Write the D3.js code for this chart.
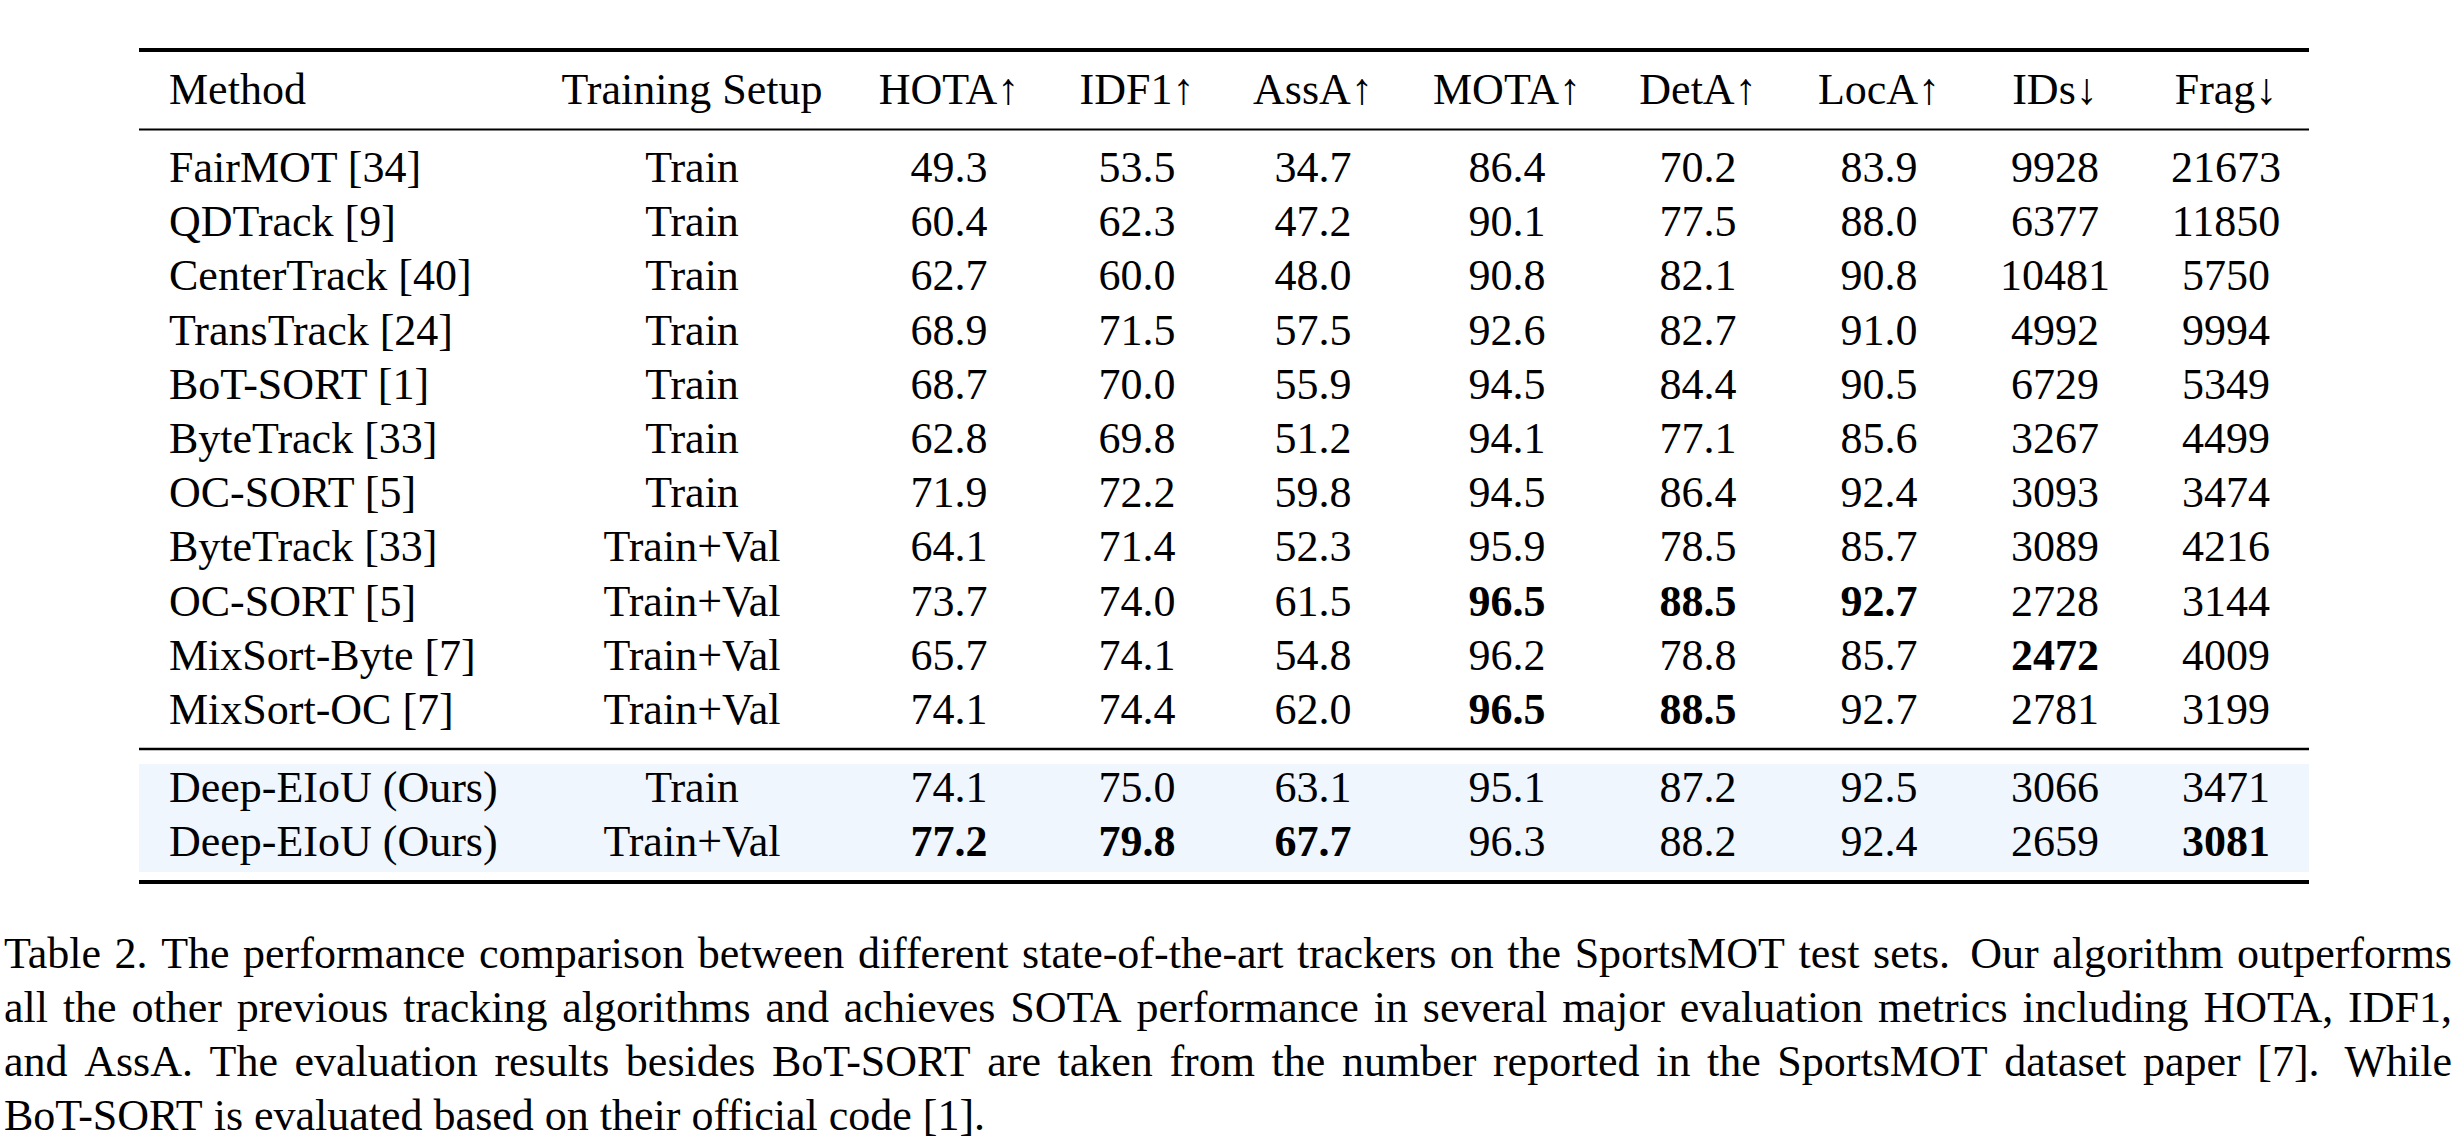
<!DOCTYPE html>
<html>
<head>
<meta charset="utf-8">
<script src="https://cdn.jsdelivr.net/npm/d3@7/dist/d3.min.js"></script>
<style>
  html, body { margin: 0; padding: 0; background: #ffffff; }
  svg { display: block; }
  text { font-family: "Liberation Serif", "Times New Roman", serif; fill: #000; }
</style>
</head>
<body>
<svg id="chart" width="2456" height="1139"></svg>
<script>
// ---------------- data ----------------
const headers = ["Method", "Training Setup", "HOTA\u2191", "IDF1\u2191", "AssA\u2191", "MOTA\u2191", "DetA\u2191", "LocA\u2191", "IDs\u2193", "Frag\u2193"];
const methods = ["FairMOT [34]", "QDTrack [9]", "CenterTrack [40]", "TransTrack [24]", "BoT-SORT [1]", "ByteTrack [33]", "OC-SORT [5]", "ByteTrack [33]", "OC-SORT [5]", "MixSort-Byte [7]", "MixSort-OC [7]"];
const setups = ["Train", "Train", "Train", "Train", "Train", "Train", "Train", "Train+Val", "Train+Val", "Train+Val", "Train+Val"];
const hota = ["49.3", "60.4", "62.7", "68.9", "68.7", "62.8", "71.9", "64.1", "73.7", "65.7", "74.1"];
const idf1 = ["53.5", "62.3", "60.0", "71.5", "70.0", "69.8", "72.2", "71.4", "74.0", "74.1", "74.4"];
const assa = ["34.7", "47.2", "48.0", "57.5", "55.9", "51.2", "59.8", "52.3", "61.5", "54.8", "62.0"];
const mota = ["86.4", "90.1", "90.8", "92.6", "94.5", "94.1", "94.5", "95.9", "96.5", "96.2", "96.5"];
const deta = ["70.2", "77.5", "82.1", "82.7", "84.4", "77.1", "86.4", "78.5", "88.5", "78.8", "88.5"];
const loca = ["83.9", "88.0", "90.8", "91.0", "90.5", "85.6", "92.4", "85.7", "92.7", "85.7", "92.7"];
const ids  = ["9928", "6377", "10481", "4992", "6729", "3267", "3093", "3089", "2728", "2472", "2781"];
const frag = ["21673", "11850", "5750", "9994", "5349", "4499", "3474", "4216", "3144", "4009", "3199"];

const oursMethods = ["Deep-EIoU (Ours)", "Deep-EIoU (Ours)"];
const oursSetups = ["Train", "Train+Val"];
const oursHota = ["74.1", "77.2"];
const oursIdf1 = ["75.0", "79.8"];
const oursAssa = ["63.1", "67.7"];
const oursMota = ["95.1", "96.3"];
const oursDeta = ["87.2", "88.2"];
const oursLoca = ["92.5", "92.4"];
const oursIds  = ["3066", "2659"];
const oursFrag = ["3471", "3081"];

// bold cells: [rowIndex, columnIndex]
const boldCells = [[8, 5], [8, 6], [8, 7], [9, 8], [10, 5], [10, 6]];
const oursBoldCells = [[1, 2], [1, 3], [1, 4], [1, 9]];

const captionLines = [
  "Table 2. The performance comparison between different state-of-the-art trackers on the SportsMOT test sets.  Our algorithm outperforms",
  "all the other previous tracking algorithms and achieves SOTA performance in several major evaluation metrics including HOTA, IDF1,",
  "and AssA. The evaluation results besides BoT-SORT are taken from the number reported in the SportsMOT dataset paper [7].  While",
  "BoT-SORT is evaluated based on their official code [1]."
];

// ---------------- layout ----------------
const svg = d3.select("#chart");
const FS = 44;
const tableLeft = 139, tableRight = 2309;

const colX = d3.scaleOrdinal()
  .domain(d3.range(headers.length))
  .range([169, 692, 949, 1137, 1313, 1507, 1698, 1879, 2055, 2226]);
const colAnchor = i => i === 0 ? "start" : "middle";

const rowY = d3.scaleLinear().domain([0, methods.length - 1]).range([182, 724]);
const oursY = d3.scaleLinear().domain([0, 1]).range([802, 856]);

const buildRows = (m, s, cols) => m.map((name, i) => [name, s[i], ...cols.map(c => c[i])]);
const rows = buildRows(methods, setups, [hota, idf1, assa, mota, deta, loca, ids, frag]);
const oursRows = buildRows(oursMethods, oursSetups, [oursHota, oursIdf1, oursAssa, oursMota, oursDeta, oursLoca, oursIds, oursFrag]);

const isBold = (list, r, c) => list.some(([rr, cc]) => rr === r && cc === c);

// highlight background for our rows
svg.append("rect")
  .attr("x", tableLeft).attr("y", 764)
  .attr("width", tableRight - tableLeft).attr("height", 108)
  .attr("fill", "#eff6fe");

// rules
const rules = [
  { y: 50, w: 4 },
  { y: 129.5, w: 2 },
  { y: 749, w: 2.7 },
  { y: 882, w: 4 }
];
svg.selectAll("line.rule").data(rules).join("line")
  .attr("class", "rule")
  .attr("x1", tableLeft).attr("x2", tableRight)
  .attr("y1", d => d.y).attr("y2", d => d.y)
  .attr("stroke", "#000").attr("stroke-width", d => d.w);

// header
svg.append("g").selectAll("text").data(headers).join("text")
  .attr("x", (d, i) => colX(i))
  .attr("y", 104)
  .attr("text-anchor", (d, i) => colAnchor(i))
  .attr("font-size", FS)
  .text(d => d);

// body rows
function drawRows(data, yScale, boldList) {
  const g = svg.append("g");
  data.forEach((row, r) => {
    g.selectAll(null).data(row).join("text")
      .attr("x", (d, c) => colX(c))
      .attr("y", yScale(r))
      .attr("text-anchor", (d, c) => colAnchor(c))
      .attr("font-size", FS)
      .attr("font-weight", (d, c) => isBold(boldList, r, c) ? "bold" : "normal")
      .text(d => d);
  });
}
drawRows(rows, rowY, boldCells);
drawRows(oursRows, oursY, oursBoldCells);

// caption (justified, with slightly wider inter-sentence space)
const capY = d3.scaleLinear().domain([0, captionLines.length - 1]).range([968, 1130]);
const capLeft = 4, capRight = 2452;
const capG = svg.append("g");
const measure = s => {
  const t = capG.append("text").attr("font-size", FS).text(s);
  const w = t.node().getComputedTextLength();
  t.remove();
  return w;
};
const spaceW = measure("a a") - measure("aa");
captionLines.forEach((line, li) => {
  const tokens = line.split(" ");
  const words = [], weights = [];
  let wide = false;
  tokens.forEach(tk => {
    if (tk === "") { wide = true; return; }
    if (words.length) weights.push(wide ? 1.5 : 1);
    wide = false;
    words.push(tk);
  });
  const last = li === captionLines.length - 1;
  const widths = words.map(measure);
  const total = d3.sum(widths);
  const unit = last ? spaceW : (capRight - capLeft - total) / d3.sum(weights);
  let x = capLeft;
  words.forEach((w, i) => {
    capG.append("text")
      .attr("x", x).attr("y", capY(li))
      .attr("font-size", FS)
      .text(w);
    x += widths[i] + (i < weights.length ? weights[i] * unit : 0);
  });
});
</script>
</body>
</html>
